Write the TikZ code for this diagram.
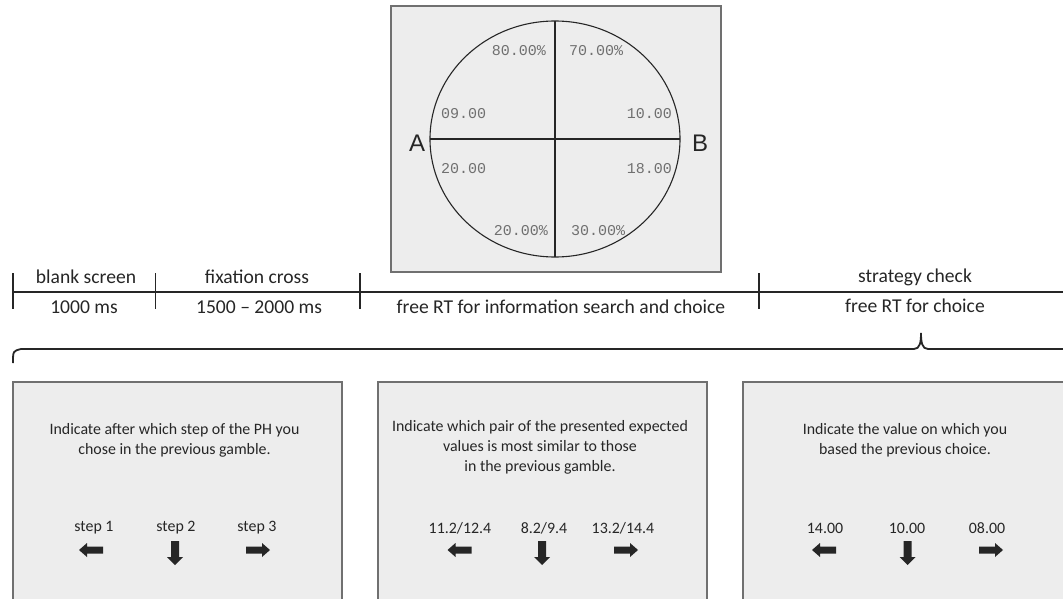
\documentclass[tikz,border=0pt]{standalone}
\usepackage{fontspec}
\setmainfont{Carlito}
\newfontfamily\monof{Liberation Mono}
\newfontfamily\arialf{Liberation Sans}
\definecolor{panelfill}{HTML}{EDEDED}
\definecolor{panelline}{HTML}{707070}
\definecolor{ink}{HTML}{262626}
\definecolor{monoink}{HTML}{707070}
\begin{document}
\begin{tikzpicture}[x=1pt,y=-1pt,
  panel/.style={fill=panelfill, draw=panelline, line width=1.2pt},
  tl/.style={font=\fontsize{19.6}{23}\selectfont, text=ink, inner sep=0pt},
  pt/.style={font=\fontsize{15.9}{20}\selectfont, text=ink, inner sep=0pt, align=center},
  mono/.style={font=\monof\fontsize{15}{18}\selectfont, text=monoink, inner sep=0pt},
  ab/.style={font=\arialf\fontsize{24}{28}\selectfont, text=ink, inner sep=0pt},
  tick/.style={line width=1.8pt, draw=ink},
  leftarr/.pic={\fill[ink] (-12,0) -- (-4,-7) -- (-4,-3.5) -- (12,-3.5) -- (12,3.5) -- (-4,3.5) -- (-4,7) -- cycle;},
  rightarr/.pic={\fill[ink] (12,0) -- (4,-7) -- (4,-3.5) -- (-12,-3.5) -- (-12,3.5) -- (4,3.5) -- (4,7) -- cycle;},
  downarr/.pic={\fill[ink] (0,12) -- (-8,4) -- (-4,4) -- (-4,-12) -- (4,-12) -- (4,4) -- (8,4) -- cycle;}
]
\path[use as bounding box] (0,0) rectangle (1063,599);
\clip (0,0) rectangle (1063,599);

% top panel
\draw[panel] (391,6) rectangle (721,272);
\draw[ink, line width=1.1pt] (555,139) ellipse [x radius=125, y radius=118];
\coordinate (ctop) at (555,21);
\coordinate (cbot) at (555,257);
\coordinate (cleft) at (430,139);
\coordinate (cright) at (680,139);
\draw[ink, line width=1.6pt] (ctop) -- (cbot);
\draw[ink, line width=1.6pt] (cleft) -- (cright);
\node[ab] (A) at (417,143) {A};
\node[ab] (B) at (700,143) {B};
\node[mono, anchor=east] (p1) at (546,51) {80.00\%};
\node[mono, anchor=west] (p2) at (569,51) {70.00\%};
\node[mono, anchor=west] (v1) at (441,114) {09.00};
\node[mono, anchor=east] (v2) at (672,114) {10.00};
\node[mono, anchor=west] (v3) at (441,169) {20.00};
\node[mono, anchor=east] (v4) at (672,169) {18.00};
\node[mono, anchor=east] (p3) at (548,231) {20.00\%};
\node[mono, anchor=west] (p4) at (571,231) {30.00\%};

% timeline
\coordinate (t0) at (13,292);
\coordinate (t1) at (155.5,292);
\coordinate (t2) at (360,292);
\coordinate (t3) at (759,292);
\coordinate (tend) at (1063,292);
\draw[tick] (t0) -- (tend);
\foreach \c in {t0,t1,t2,t3} \draw[tick] (\c) ++(0,-19) -- ++(0,36);
\node[tl] (bs) at (86,277) {blank screen};
\node[tl] (bsms) at (84,307) {1000 ms};
\node[tl] (fc) at (257,277) {fixation cross};
\node[tl] (fcms) at (259,307) {1500 -- 2000 ms};
\node[tl] (free) at (561,307) {free RT for information search and choice};
\node[tl] (sc) at (915,277) {strategy check};
\node[tl] (scms) at (915,306) {free RT for choice};

% brace
\coordinate (bl) at (13,363);
\coordinate (tip) at (921,333);
\coordinate (br) at (1063,349);
\draw[ink, line width=1.8pt] (bl) .. controls (13,351) .. (21,349) -- (914,349) .. controls (920,349) and (921,342) .. (tip) .. controls (921,342) and (922,349) .. (928,349) -- (br);

% bottom panels
\draw[panel] (13,382) rectangle (342,620);
\draw[panel] (378,382) rectangle (707,620);
\draw[panel] (743,382) rectangle (1080,620);

\node[pt] (q1) at (174.5,440.5) {Indicate after which step of the PH you\\chose in the previous gamble.};
\node[pt] (a11) at (94,528) {step 1};
\node[pt] (a12) at (176,528) {step 2};
\node[pt] (a13) at (257,528) {step 3};
\pic at (91,550) {leftarr};
\pic at (175,553) {downarr};
\pic at (258,550) {rightarr};

\node[pt] (q2) at (540,447) {Indicate which pair of the presented expected\\values is most similar to those\\in the previous gamble.};
\node[pt] (a21) at (460,528) {11.2/12.4};
\node[pt] (a22) at (544,528) {8.2/9.4};
\node[pt] (a23) at (623,528) {13.2/14.4};
\pic at (459.5,550) {leftarr};
\pic at (542,553) {downarr};
\pic at (626,550) {rightarr};

\node[pt] (q3) at (905,440.5) {Indicate the value on which you\\based the previous choice.};
\node[pt] (a31) at (825,528) {14.00};
\node[pt] (a32) at (907,528) {10.00};
\node[pt] (a33) at (987,528) {08.00};
\pic at (824,550) {leftarr};
\pic at (907.5,553) {downarr};
\pic at (991,550) {rightarr};
\end{tikzpicture}
\end{document}
